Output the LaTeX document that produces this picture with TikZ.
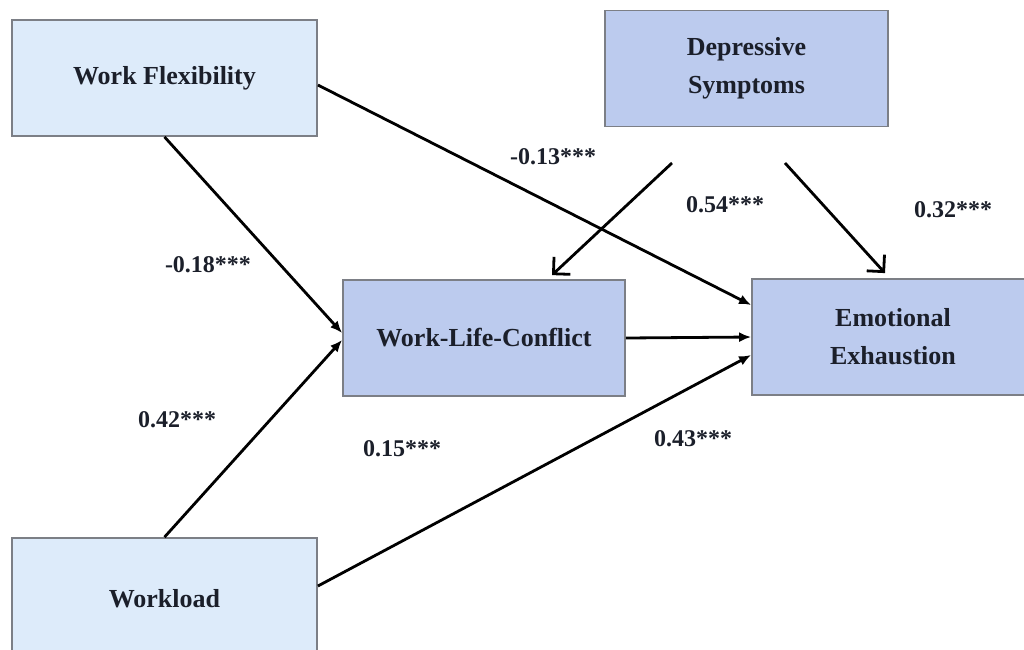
\documentclass[tikz,border=0pt]{standalone}
\usepackage{fontspec}
\setmainfont{Liberation Serif}
\usetikzlibrary{arrows.meta}
\definecolor{boxlight}{HTML}{DDEBFA}
\definecolor{boxdark}{HTML}{BCCBEE}
\definecolor{boxline}{HTML}{7C7F86}
\definecolor{ink}{HTML}{1B1F2A}
\tikzset{
  var/.style={draw=boxline, line width=1.8pt, minimum height=116pt,
    align=center, font=\fontsize{26}{38}\selectfont\bfseries, text=ink,
    inner sep=0pt},
  lightbox/.style={var, fill=boxlight},
  darkbox/.style={var, fill=boxdark},
  path/.style={line width=2.8pt, -{Latex[length=12pt,width=10pt]}},
  modpath/.style={line width=2.8pt, -{Straight Barb[length=12pt,width=24pt,line width=2.8pt]}},
  coef/.style={font=\fontsize{24}{28}\selectfont\bfseries, text=ink, inner sep=0pt}
}
\begin{document}
\begin{tikzpicture}[x=1pt,y=-1pt]
  \useasboundingbox (0,0) rectangle (1024,649);
  \clip (0,0) rectangle (1024,649);

  % constructs
  \node[lightbox, minimum width=305pt] (wf)  at (164.5,78)  {Work Flexibility};
  \node[darkbox,  minimum width=283pt] (ds)  at (746.5,68.5) {Depressive\\Symptoms};
  \node[darkbox,  minimum width=282pt] (wlc) at (484,338)   {Work-Life-Conflict};
  \node[darkbox,  minimum width=282pt] (ee)  at (893,337)   {Emotional\\Exhaustion};
  \node[lightbox, minimum width=305pt, minimum height=122pt] (wl) at (164.5,599) {Workload};

  % free starts of the moderation arrows
  \coordinate (d1) at (672,163);
  \coordinate (d2) at (785,163);

  % paths
  \draw[path] (wf.south) -- ([yshift=5pt]wlc.west);
  \draw[path] (wl.north) -- ([yshift=-2pt]wlc.west);
  \draw[path] ([yshift=-7pt]wf.east) -- ([yshift=32pt]ee.west);
  \draw[path] (wlc.east) -- (ee.west);
  \draw[path] ([yshift=13pt]wl.east) -- ([yshift=-18pt]ee.west);
  \draw[modpath] (d1) -- ([xshift=68pt,yshift=4pt]wlc.north);
  \draw[modpath] (d2) -- ([xshift=-8pt,yshift=5pt]ee.north);

  % coefficients
  \node[coef] (c1) at (208,265) {-0.18***};
  \node[coef] (c2) at (177,420) {0.42***};
  \node[coef] (c3) at (553,157) {-0.13***};
  \node[coef] (c4) at (725,205) {0.54***};
  \node[coef] (c5) at (953,210) {0.32***};
  \node[coef] (c6) at (402,449) {0.15***};
  \node[coef] (c7) at (693,439) {0.43***};
\end{tikzpicture}
\end{document}
